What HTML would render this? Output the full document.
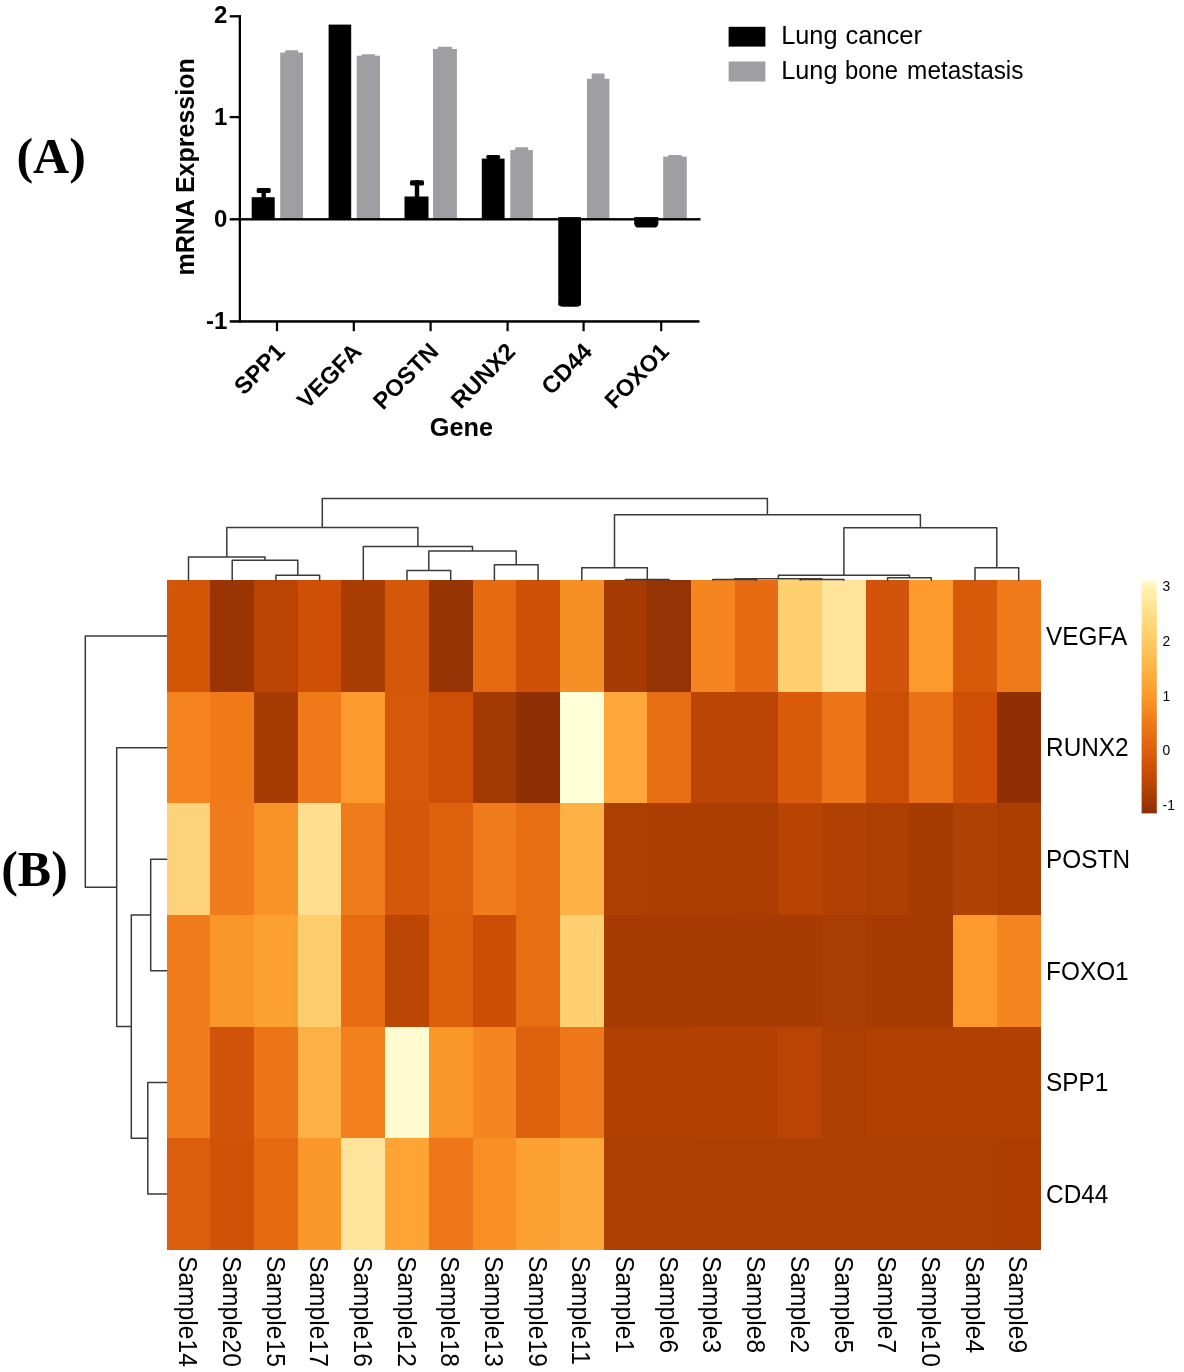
<!DOCTYPE html>
<html><head><meta charset="utf-8"><title>Figure</title>
<style>html,body{margin:0;padding:0;background:#fff}body{width:1184px;height:1372px;overflow:hidden;font-family:'Liberation Sans', sans-serif}svg{display:block;will-change:transform}text{fill:#000}</style></head><body>
<svg width="1184" height="1372" viewBox="0 0 1184 1372">
<rect width="1184" height="1372" fill="#fff"/>
<text transform="translate(16.40,172.80)" style="font-family:'Liberation Serif', serif;font-size:50px;font-weight:bold">(A)</text>
<text transform="translate(1.20,885.70)" style="font-family:'Liberation Serif', serif;font-size:50px;font-weight:bold">(B)</text>
<g id="barchart">
<rect x="280.2" y="52.6" width="22.8" height="166.7" fill="#9f9ea3"/>
<rect x="285.0" y="50.2" width="13.2" height="2.9" rx="1.2" fill="#9f9ea3"/>
<rect x="251.7" y="197.2" width="23.0" height="22.1" fill="#000"/>
<rect x="261.5" y="188.0" width="4.4" height="9.7" fill="#000"/>
<rect x="256.7" y="188.0" width="14" height="5.1" rx="1.5" fill="#000"/>
<rect x="356.7" y="55.7" width="23.3" height="163.6" fill="#9f9ea3"/>
<rect x="361.5" y="54.3" width="13.7" height="1.9" rx="1.2" fill="#9f9ea3"/>
<rect x="328.6" y="24.6" width="22.6" height="194.7" fill="#000"/>
<rect x="433.0" y="49.0" width="23.9" height="170.3" fill="#9f9ea3"/>
<rect x="437.8" y="46.8" width="14.3" height="2.7" rx="1.2" fill="#9f9ea3"/>
<rect x="404.5" y="196.5" width="24.0" height="22.8" fill="#000"/>
<rect x="414.8" y="180.3" width="4.4" height="16.7" fill="#000"/>
<rect x="410.0" y="180.3" width="14" height="5.2" rx="1.5" fill="#000"/>
<rect x="510.3" y="150.0" width="22.6" height="69.3" fill="#9f9ea3"/>
<rect x="515.1" y="147.2" width="13.0" height="3.3" rx="1.2" fill="#9f9ea3"/>
<rect x="481.8" y="158.6" width="22.8" height="60.7" fill="#000"/>
<rect x="486.3" y="154.9" width="13.8" height="4.2" rx="1.5" fill="#000"/>
<rect x="586.9" y="78.8" width="22.5" height="140.5" fill="#9f9ea3"/>
<rect x="591.7" y="73.6" width="12.9" height="5.7" rx="1.2" fill="#9f9ea3"/>
<rect x="558.3" y="217.1" width="22.7" height="88.2" fill="#000"/>
<rect x="558.5" y="300.3" width="22.3" height="6.5" rx="4.5" ry="3.6" fill="#000"/>
<rect x="663.2" y="156.6" width="23.6" height="62.7" fill="#9f9ea3"/>
<rect x="668.0" y="154.9" width="14.0" height="2.2" rx="1.2" fill="#9f9ea3"/>
<rect x="634.3" y="217.1" width="24.0" height="7.2" fill="#000"/>
<rect x="634.5" y="219.3" width="23.6" height="8.2" rx="4.5" ry="3.6" fill="#000"/>
<rect x="238.7" y="15.1" width="2.3" height="307.6" fill="#000"/>
<rect x="229.7" y="218.1" width="470.8" height="2.4" fill="#000"/>
<rect x="229.7" y="320.2" width="469.8" height="2.5" fill="#000"/>
<rect x="229.7" y="15.15" width="10" height="2.3" fill="#000"/>
<rect x="229.7" y="115.95" width="10" height="2.3" fill="#000"/>
<rect x="275.9" y="321.4" width="2.2" height="9.8" fill="#000"/>
<rect x="352.7" y="321.4" width="2.2" height="9.8" fill="#000"/>
<rect x="429.5" y="321.4" width="2.2" height="9.8" fill="#000"/>
<rect x="506.5" y="321.4" width="2.2" height="9.8" fill="#000"/>
<rect x="582.5" y="321.4" width="2.2" height="9.8" fill="#000"/>
<rect x="660.1" y="321.4" width="2.2" height="9.8" fill="#000"/>
<text transform="translate(227.30,22.90)" text-anchor="end" style="font-family:'Liberation Sans', sans-serif;font-size:24px;font-weight:bold">2</text>
<text transform="translate(227.30,124.80)" text-anchor="end" style="font-family:'Liberation Sans', sans-serif;font-size:24px;font-weight:bold">1</text>
<text transform="translate(227.30,226.90)" text-anchor="end" style="font-family:'Liberation Sans', sans-serif;font-size:24px;font-weight:bold">0</text>
<text transform="translate(227.30,329.00)" text-anchor="end" style="font-family:'Liberation Sans', sans-serif;font-size:24px;font-weight:bold">-1</text>
<text transform="translate(194.30,166.90) rotate(-90)" text-anchor="middle" style="font-family:'Liberation Sans', sans-serif;font-size:25.0px;font-weight:bold">mRNA Expression</text>
<text transform="translate(286.10,352.90) rotate(-45.6)" text-anchor="end" style="font-family:'Liberation Sans', sans-serif;font-size:23.6px;font-weight:bold">SPP1</text>
<text transform="translate(362.95,352.90) rotate(-45.6)" text-anchor="end" style="font-family:'Liberation Sans', sans-serif;font-size:23.6px;font-weight:bold">VEGFA</text>
<text transform="translate(439.80,352.90) rotate(-45.6)" text-anchor="end" style="font-family:'Liberation Sans', sans-serif;font-size:23.6px;font-weight:bold">POSTN</text>
<text transform="translate(516.65,352.90) rotate(-45.6)" text-anchor="end" style="font-family:'Liberation Sans', sans-serif;font-size:23.6px;font-weight:bold">RUNX2</text>
<text transform="translate(593.50,352.90) rotate(-45.6)" text-anchor="end" style="font-family:'Liberation Sans', sans-serif;font-size:23.6px;font-weight:bold">CD44</text>
<text transform="translate(670.35,352.90) rotate(-45.6)" text-anchor="end" style="font-family:'Liberation Sans', sans-serif;font-size:23.6px;font-weight:bold">FOXO1</text>
<text transform="translate(461.50,435.90)" text-anchor="middle" style="font-family:'Liberation Sans', sans-serif;font-size:25.3px;font-weight:bold">Gene</text>
<rect x="728.6" y="26.8" width="36.8" height="19.8" fill="#000"/>
<rect x="728.6" y="61.5" width="36.8" height="20" fill="#9f9ea3"/>
<text transform="translate(781.20,44.30) scale(0.9930,1)" style="font-family:'Liberation Sans', sans-serif;font-size:25.5px">Lung</text>
<text transform="translate(845.40,44.30) scale(1.0020,1)" style="font-family:'Liberation Sans', sans-serif;font-size:25.5px">cancer</text>
<text transform="translate(781.20,79.10) scale(0.9930,1)" style="font-family:'Liberation Sans', sans-serif;font-size:25.5px">Lung</text>
<text transform="translate(845.00,79.10) scale(0.9340,1)" style="font-family:'Liberation Sans', sans-serif;font-size:25.5px">bone</text>
<text transform="translate(907.10,79.10) scale(0.9550,1)" style="font-family:'Liberation Sans', sans-serif;font-size:25.5px">metastasis</text>
</g>
<g id="heatmap">
<g shape-rendering="crispEdges">
<rect x="166.70" y="580.30" width="44.29" height="112.18" fill="#d35607"/>
<rect x="210.39" y="580.30" width="44.29" height="112.18" fill="#9a3503"/>
<rect x="254.08" y="580.30" width="44.29" height="112.18" fill="#b94404"/>
<rect x="297.77" y="580.30" width="44.29" height="112.18" fill="#cf5005"/>
<rect x="341.46" y="580.30" width="44.29" height="112.18" fill="#a83c03"/>
<rect x="385.15" y="580.30" width="44.29" height="112.18" fill="#d4570a"/>
<rect x="428.84" y="580.30" width="44.29" height="112.18" fill="#963403"/>
<rect x="472.53" y="580.30" width="44.29" height="112.18" fill="#e56a12"/>
<rect x="516.22" y="580.30" width="44.29" height="112.18" fill="#cf5005"/>
<rect x="559.91" y="580.30" width="44.29" height="112.18" fill="#f79024"/>
<rect x="603.60" y="580.30" width="44.29" height="112.18" fill="#a53b03"/>
<rect x="647.29" y="580.30" width="44.29" height="112.18" fill="#943303"/>
<rect x="690.98" y="580.30" width="44.29" height="112.18" fill="#f5861f"/>
<rect x="734.67" y="580.30" width="44.29" height="112.18" fill="#e76b12"/>
<rect x="778.36" y="580.30" width="44.29" height="112.18" fill="#fed070"/>
<rect x="822.05" y="580.30" width="44.29" height="112.18" fill="#fee49a"/>
<rect x="865.74" y="580.30" width="44.29" height="112.18" fill="#d2540a"/>
<rect x="909.43" y="580.30" width="44.29" height="112.18" fill="#fd9a2c"/>
<rect x="953.12" y="580.30" width="44.29" height="112.18" fill="#d75a0b"/>
<rect x="996.81" y="580.30" width="43.69" height="112.18" fill="#ee7a1a"/>
<rect x="166.70" y="691.88" width="44.29" height="112.18" fill="#f5841f"/>
<rect x="210.39" y="691.88" width="44.29" height="112.18" fill="#f07a18"/>
<rect x="254.08" y="691.88" width="44.29" height="112.18" fill="#a63b03"/>
<rect x="297.77" y="691.88" width="44.29" height="112.18" fill="#f07a1a"/>
<rect x="341.46" y="691.88" width="44.29" height="112.18" fill="#fe9a2d"/>
<rect x="385.15" y="691.88" width="44.29" height="112.18" fill="#d65909"/>
<rect x="428.84" y="691.88" width="44.29" height="112.18" fill="#cc4f05"/>
<rect x="472.53" y="691.88" width="44.29" height="112.18" fill="#a43a03"/>
<rect x="516.22" y="691.88" width="44.29" height="112.18" fill="#8e2f04"/>
<rect x="559.91" y="691.88" width="44.29" height="112.18" fill="#ffffd8"/>
<rect x="603.60" y="691.88" width="44.29" height="112.18" fill="#fda63a"/>
<rect x="647.29" y="691.88" width="44.29" height="112.18" fill="#e86e14"/>
<rect x="690.98" y="691.88" width="44.29" height="112.18" fill="#ba4504"/>
<rect x="734.67" y="691.88" width="44.29" height="112.18" fill="#ba4504"/>
<rect x="778.36" y="691.88" width="44.29" height="112.18" fill="#da5c0b"/>
<rect x="822.05" y="691.88" width="44.29" height="112.18" fill="#ec7518"/>
<rect x="865.74" y="691.88" width="44.29" height="112.18" fill="#cc4f06"/>
<rect x="909.43" y="691.88" width="44.29" height="112.18" fill="#e97116"/>
<rect x="953.12" y="691.88" width="44.29" height="112.18" fill="#cf5005"/>
<rect x="996.81" y="691.88" width="43.69" height="112.18" fill="#902f03"/>
<rect x="166.70" y="803.47" width="44.29" height="112.18" fill="#fed27a"/>
<rect x="210.39" y="803.47" width="44.29" height="112.18" fill="#f07c1b"/>
<rect x="254.08" y="803.47" width="44.29" height="112.18" fill="#f99327"/>
<rect x="297.77" y="803.47" width="44.29" height="112.18" fill="#fedf90"/>
<rect x="341.46" y="803.47" width="44.29" height="112.18" fill="#ef7c1b"/>
<rect x="385.15" y="803.47" width="44.29" height="112.18" fill="#d4570a"/>
<rect x="428.84" y="803.47" width="44.29" height="112.18" fill="#de620e"/>
<rect x="472.53" y="803.47" width="44.29" height="112.18" fill="#ef7b1b"/>
<rect x="516.22" y="803.47" width="44.29" height="112.18" fill="#e86e14"/>
<rect x="559.91" y="803.47" width="44.29" height="112.18" fill="#fdb044"/>
<rect x="603.60" y="803.47" width="44.29" height="112.18" fill="#ae3f03"/>
<rect x="647.29" y="803.47" width="44.29" height="112.18" fill="#ad3e03"/>
<rect x="690.98" y="803.47" width="44.29" height="112.18" fill="#ac3e03"/>
<rect x="734.67" y="803.47" width="44.29" height="112.18" fill="#ab3d03"/>
<rect x="778.36" y="803.47" width="44.29" height="112.18" fill="#b84404"/>
<rect x="822.05" y="803.47" width="44.29" height="112.18" fill="#b04003"/>
<rect x="865.74" y="803.47" width="44.29" height="112.18" fill="#ae3f03"/>
<rect x="909.43" y="803.47" width="44.29" height="112.18" fill="#a63b03"/>
<rect x="953.12" y="803.47" width="44.29" height="112.18" fill="#b04104"/>
<rect x="996.81" y="803.47" width="43.69" height="112.18" fill="#ad3e03"/>
<rect x="166.70" y="915.05" width="44.29" height="112.18" fill="#f07c1b"/>
<rect x="210.39" y="915.05" width="44.29" height="112.18" fill="#fb9628"/>
<rect x="254.08" y="915.05" width="44.29" height="112.18" fill="#fda132"/>
<rect x="297.77" y="915.05" width="44.29" height="112.18" fill="#fecd6b"/>
<rect x="341.46" y="915.05" width="44.29" height="112.18" fill="#e76c12"/>
<rect x="385.15" y="915.05" width="44.29" height="112.18" fill="#bc4604"/>
<rect x="428.84" y="915.05" width="44.29" height="112.18" fill="#dc5f0c"/>
<rect x="472.53" y="915.05" width="44.29" height="112.18" fill="#cc4e04"/>
<rect x="516.22" y="915.05" width="44.29" height="112.18" fill="#e86e14"/>
<rect x="559.91" y="915.05" width="44.29" height="112.18" fill="#fed070"/>
<rect x="603.60" y="915.05" width="44.29" height="112.18" fill="#a73b03"/>
<rect x="647.29" y="915.05" width="44.29" height="112.18" fill="#a73b03"/>
<rect x="690.98" y="915.05" width="44.29" height="112.18" fill="#a73b03"/>
<rect x="734.67" y="915.05" width="44.29" height="112.18" fill="#a73b03"/>
<rect x="778.36" y="915.05" width="44.29" height="112.18" fill="#a73b03"/>
<rect x="822.05" y="915.05" width="44.29" height="112.18" fill="#aa3d03"/>
<rect x="865.74" y="915.05" width="44.29" height="112.18" fill="#a73b03"/>
<rect x="909.43" y="915.05" width="44.29" height="112.18" fill="#a73b03"/>
<rect x="953.12" y="915.05" width="44.29" height="112.18" fill="#fd9a2b"/>
<rect x="996.81" y="915.05" width="43.69" height="112.18" fill="#f4851f"/>
<rect x="166.70" y="1026.63" width="44.29" height="112.18" fill="#f07c1b"/>
<rect x="210.39" y="1026.63" width="44.29" height="112.18" fill="#d2540a"/>
<rect x="254.08" y="1026.63" width="44.29" height="112.18" fill="#ec7518"/>
<rect x="297.77" y="1026.63" width="44.29" height="112.18" fill="#fdb045"/>
<rect x="341.46" y="1026.63" width="44.29" height="112.18" fill="#f2801d"/>
<rect x="385.15" y="1026.63" width="44.29" height="112.18" fill="#fffad0"/>
<rect x="428.84" y="1026.63" width="44.29" height="112.18" fill="#fb9628"/>
<rect x="472.53" y="1026.63" width="44.29" height="112.18" fill="#f4851f"/>
<rect x="516.22" y="1026.63" width="44.29" height="112.18" fill="#de620e"/>
<rect x="559.91" y="1026.63" width="44.29" height="112.18" fill="#ed7719"/>
<rect x="603.60" y="1026.63" width="44.29" height="112.18" fill="#b14003"/>
<rect x="647.29" y="1026.63" width="44.29" height="112.18" fill="#b14003"/>
<rect x="690.98" y="1026.63" width="44.29" height="112.18" fill="#b24103"/>
<rect x="734.67" y="1026.63" width="44.29" height="112.18" fill="#b24103"/>
<rect x="778.36" y="1026.63" width="44.29" height="112.18" fill="#b94404"/>
<rect x="822.05" y="1026.63" width="44.29" height="112.18" fill="#ae3f03"/>
<rect x="865.74" y="1026.63" width="44.29" height="112.18" fill="#b14003"/>
<rect x="909.43" y="1026.63" width="44.29" height="112.18" fill="#b14003"/>
<rect x="953.12" y="1026.63" width="44.29" height="112.18" fill="#b14003"/>
<rect x="996.81" y="1026.63" width="43.69" height="112.18" fill="#b14003"/>
<rect x="166.70" y="1138.22" width="44.29" height="111.58" fill="#dc5e0c"/>
<rect x="210.39" y="1138.22" width="44.29" height="111.58" fill="#cf5206"/>
<rect x="254.08" y="1138.22" width="44.29" height="111.58" fill="#e66a12"/>
<rect x="297.77" y="1138.22" width="44.29" height="111.58" fill="#fc9829"/>
<rect x="341.46" y="1138.22" width="44.29" height="111.58" fill="#fee49a"/>
<rect x="385.15" y="1138.22" width="44.29" height="111.58" fill="#fda434"/>
<rect x="428.84" y="1138.22" width="44.29" height="111.58" fill="#ee7819"/>
<rect x="472.53" y="1138.22" width="44.29" height="111.58" fill="#f98f25"/>
<rect x="516.22" y="1138.22" width="44.29" height="111.58" fill="#fda232"/>
<rect x="559.91" y="1138.22" width="44.29" height="111.58" fill="#fda83a"/>
<rect x="603.60" y="1138.22" width="44.29" height="111.58" fill="#ae3f03"/>
<rect x="647.29" y="1138.22" width="44.29" height="111.58" fill="#ae3f03"/>
<rect x="690.98" y="1138.22" width="44.29" height="111.58" fill="#ae3f03"/>
<rect x="734.67" y="1138.22" width="44.29" height="111.58" fill="#ae3f03"/>
<rect x="778.36" y="1138.22" width="44.29" height="111.58" fill="#ae3f03"/>
<rect x="822.05" y="1138.22" width="44.29" height="111.58" fill="#ae3f03"/>
<rect x="865.74" y="1138.22" width="44.29" height="111.58" fill="#ae3f03"/>
<rect x="909.43" y="1138.22" width="44.29" height="111.58" fill="#ae3f03"/>
<rect x="953.12" y="1138.22" width="44.29" height="111.58" fill="#ae3f03"/>
<rect x="996.81" y="1138.22" width="43.69" height="111.58" fill="#ad3d03"/>
</g>
<path d="M275.9 580.3L275.9 575.3 M319.6 580.3L319.6 575.3 M275.9 575.3L319.6 575.3 M232.2 580.3L232.2 560.3 M297.8 575.3L297.8 560.3 M232.2 560.3L297.8 560.3 M188.5 580.3L188.5 557.0 M265.0 560.3L265.0 557.0 M188.5 557.0L265.0 557.0 M407.0 580.3L407.0 570.5 M450.7 580.3L450.7 570.5 M407.0 570.5L450.7 570.5 M494.4 580.3L494.4 564.8 M538.1 580.3L538.1 564.8 M494.4 564.8L538.1 564.8 M428.8 570.5L428.8 550.9 M516.2 564.8L516.2 550.9 M428.8 550.9L516.2 550.9 M363.3 580.3L363.3 546.4 M472.5 550.9L472.5 546.4 M363.3 546.4L472.5 546.4 M226.8 557.0L226.8 527.5 M417.9 546.4L417.9 527.5 M226.8 527.5L417.9 527.5 M625.4 580.3L625.4 579.4 M669.1 580.3L669.1 579.4 M625.4 579.4L669.1 579.4 M581.8 580.3L581.8 567.8 M647.3 579.4L647.3 567.8 M581.8 567.8L647.3 567.8 M712.8 580.3L712.8 579.6 M756.5 580.3L756.5 579.6 M712.8 579.6L756.5 579.6 M800.2 580.3L800.2 579.4 M843.9 580.3L843.9 579.4 M800.2 579.4L843.9 579.4 M734.7 579.6L734.7 578.8 M822.0 579.4L822.0 578.8 M734.7 578.8L822.0 578.8 M887.6 580.3L887.6 577.8 M931.3 580.3L931.3 577.8 M887.6 577.8L931.3 577.8 M778.4 578.8L778.4 575.2 M909.4 577.8L909.4 575.2 M778.4 575.2L909.4 575.2 M975.0 580.3L975.0 567.8 M1018.7 580.3L1018.7 567.8 M975.0 567.8L1018.7 567.8 M843.9 575.2L843.9 527.7 M996.8 567.8L996.8 527.7 M843.9 527.7L996.8 527.7 M614.5 567.8L614.5 514.7 M920.4 527.7L920.4 514.7 M614.5 514.7L920.4 514.7 M322.3 527.5L322.3 498.4 M767.4 514.7L767.4 498.4 M322.3 498.4L767.4 498.4 M166.7 859.3L150.7 859.3 M166.7 970.8L150.7 970.8 M150.7 859.3L150.7 970.8 M166.7 1082.4L147.8 1082.4 M166.7 1194.0L147.8 1194.0 M147.8 1082.4L147.8 1194.0 M150.7 915.0L131.3 915.0 M147.8 1138.2L131.3 1138.2 M131.3 915.0L131.3 1138.2 M166.7 747.7L116.7 747.7 M131.3 1026.6L116.7 1026.6 M116.7 747.7L116.7 1026.6 M166.7 636.1L85.3 636.1 M116.7 887.2L85.3 887.2 M85.3 636.1L85.3 887.2" fill="none" stroke="#3a3a3a" stroke-width="1.5" stroke-linecap="round" stroke-linejoin="round"/>
<text transform="translate(1046.10,644.89) scale(0.9750,1)" style="font-family:'Liberation Sans', sans-serif;font-size:25.0px">VEGFA</text>
<text transform="translate(1046.10,756.47) scale(0.9750,1)" style="font-family:'Liberation Sans', sans-serif;font-size:25.0px">RUNX2</text>
<text transform="translate(1046.10,868.06) scale(0.9750,1)" style="font-family:'Liberation Sans', sans-serif;font-size:25.0px">POSTN</text>
<text transform="translate(1046.10,979.64) scale(0.9750,1)" style="font-family:'Liberation Sans', sans-serif;font-size:25.0px">FOXO1</text>
<text transform="translate(1046.10,1091.22) scale(0.9750,1)" style="font-family:'Liberation Sans', sans-serif;font-size:25.0px">SPP1</text>
<text transform="translate(1046.10,1202.81) scale(0.9750,1)" style="font-family:'Liberation Sans', sans-serif;font-size:25.0px">CD44</text>
<text transform="translate(179.14,1256.00) rotate(90) scale(0.9850,1)" style="font-family:'Liberation Sans', sans-serif;font-size:25.0px">Sample14</text>
<text transform="translate(222.83,1256.00) rotate(90) scale(0.9850,1)" style="font-family:'Liberation Sans', sans-serif;font-size:25.0px">Sample20</text>
<text transform="translate(266.52,1256.00) rotate(90) scale(0.9850,1)" style="font-family:'Liberation Sans', sans-serif;font-size:25.0px">Sample15</text>
<text transform="translate(310.22,1256.00) rotate(90) scale(0.9850,1)" style="font-family:'Liberation Sans', sans-serif;font-size:25.0px">Sample17</text>
<text transform="translate(353.90,1256.00) rotate(90) scale(0.9850,1)" style="font-family:'Liberation Sans', sans-serif;font-size:25.0px">Sample16</text>
<text transform="translate(397.60,1256.00) rotate(90) scale(0.9850,1)" style="font-family:'Liberation Sans', sans-serif;font-size:25.0px">Sample12</text>
<text transform="translate(441.29,1256.00) rotate(90) scale(0.9850,1)" style="font-family:'Liberation Sans', sans-serif;font-size:25.0px">Sample18</text>
<text transform="translate(484.97,1256.00) rotate(90) scale(0.9850,1)" style="font-family:'Liberation Sans', sans-serif;font-size:25.0px">Sample13</text>
<text transform="translate(528.67,1256.00) rotate(90) scale(0.9850,1)" style="font-family:'Liberation Sans', sans-serif;font-size:25.0px">Sample19</text>
<text transform="translate(572.35,1256.00) rotate(90) scale(0.9850,1)" style="font-family:'Liberation Sans', sans-serif;font-size:25.0px">Sample11</text>
<text transform="translate(616.04,1256.00) rotate(90) scale(0.9850,1)" style="font-family:'Liberation Sans', sans-serif;font-size:25.0px">Sample1</text>
<text transform="translate(659.74,1256.00) rotate(90) scale(0.9850,1)" style="font-family:'Liberation Sans', sans-serif;font-size:25.0px">Sample6</text>
<text transform="translate(703.43,1256.00) rotate(90) scale(0.9850,1)" style="font-family:'Liberation Sans', sans-serif;font-size:25.0px">Sample3</text>
<text transform="translate(747.11,1256.00) rotate(90) scale(0.9850,1)" style="font-family:'Liberation Sans', sans-serif;font-size:25.0px">Sample8</text>
<text transform="translate(790.80,1256.00) rotate(90) scale(0.9850,1)" style="font-family:'Liberation Sans', sans-serif;font-size:25.0px">Sample2</text>
<text transform="translate(834.50,1256.00) rotate(90) scale(0.9850,1)" style="font-family:'Liberation Sans', sans-serif;font-size:25.0px">Sample5</text>
<text transform="translate(878.19,1256.00) rotate(90) scale(0.9850,1)" style="font-family:'Liberation Sans', sans-serif;font-size:25.0px">Sample7</text>
<text transform="translate(921.87,1256.00) rotate(90) scale(0.9850,1)" style="font-family:'Liberation Sans', sans-serif;font-size:25.0px">Sample10</text>
<text transform="translate(965.56,1256.00) rotate(90) scale(0.9850,1)" style="font-family:'Liberation Sans', sans-serif;font-size:25.0px">Sample4</text>
<text transform="translate(1009.25,1256.00) rotate(90) scale(0.9850,1)" style="font-family:'Liberation Sans', sans-serif;font-size:25.0px">Sample9</text>
<defs><linearGradient id="cb" x1="0" y1="0" x2="0" y2="1"><stop offset="0" stop-color="#fffbd0"/><stop offset="0.026" stop-color="#fff4b8"/><stop offset="0.1427" stop-color="#fedf88"/><stop offset="0.2596" stop-color="#fecb62"/><stop offset="0.3766" stop-color="#fdb445"/><stop offset="0.4936" stop-color="#fb9a2c"/><stop offset="0.6105" stop-color="#ee7a1a"/><stop offset="0.7275" stop-color="#dd600c"/><stop offset="0.8444" stop-color="#c44a03"/><stop offset="0.9614" stop-color="#9b3603"/><stop offset="1" stop-color="#8c2d04"/></linearGradient></defs>
<rect x="1141.6" y="580.4" width="15.2" height="233" fill="url(#cb)"/>
<text transform="translate(1162.60,591.40)" style="font-family:'Liberation Sans', sans-serif;font-size:13.8px">3</text>
<text transform="translate(1162.60,645.90)" style="font-family:'Liberation Sans', sans-serif;font-size:13.8px">2</text>
<text transform="translate(1162.60,700.70)" style="font-family:'Liberation Sans', sans-serif;font-size:13.8px">1</text>
<text transform="translate(1162.60,755.20)" style="font-family:'Liberation Sans', sans-serif;font-size:13.8px">0</text>
<text transform="translate(1162.60,809.70)" style="font-family:'Liberation Sans', sans-serif;font-size:13.8px">-1</text>
</g>
</svg></body></html>
